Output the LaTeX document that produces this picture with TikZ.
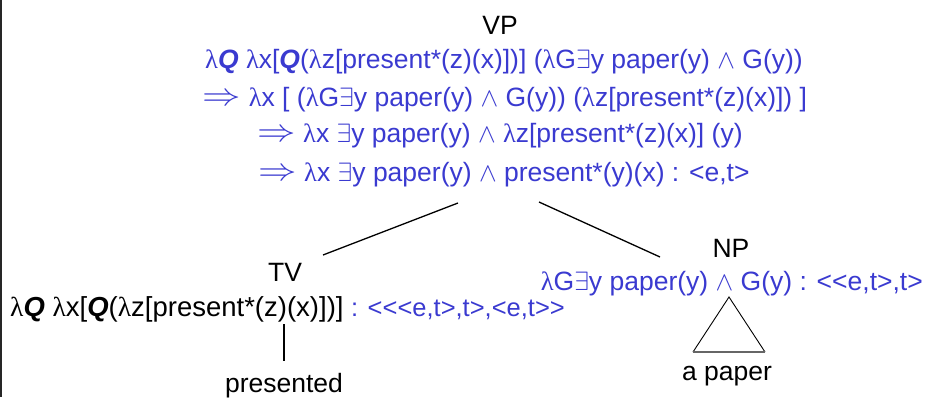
\RequirePackage{fix-cm}
\documentclass[tikz,border=0pt]{standalone}
\usepackage{fontspec}
\setmainfont{Liberation Sans}[Ligatures=TeXOff]
\newfontfamily\lamfont{Liberation Serif}[Ligatures=TeXOff]
\definecolor{semblue}{RGB}{58,58,208}
\newcommand{\lam}{{\lamfont λ}}
\newcommand{\bQ}{\textbf{\textit{Q}}}
\newcommand{\ex}{$\exists$}
\newcommand{\und}{$\wedge$}
\newcommand{\imp}{\raisebox{0.5pt}{\scalebox{1.45}[1.2]{$\Rightarrow$}}}
\tikzset{
  lbl/.style={inner sep=0pt, anchor=base, font=\fontsize{26.5}{31}\selectfont},
  sem/.style={lbl, text=semblue},
  branch/.style={draw=black, line width=1.3pt},
}
\begin{document}
\begin{tikzpicture}[x=1pt,y=-1pt]
\useasboundingbox (0,0) rectangle (927,397);
\draw[line width=1.5pt, draw=black!85] (0.75,0) -- (0.75,397);
% VP
\node[lbl] (vp) at (500,34) {VP};
\node[sem] (l1) at (504,68) {\lam\bQ{} \lam x[\bQ(\lam z[present*(z)(x)])] (\lam G\ex y paper(y) \und{} G(y))};
\node[sem] (l2) at (505,106) {\imp{} \lam x [ (\lam G\ex y paper(y) \und{} G(y)) (\lam z[present*(z)(x)]) ]};
\node[sem] (l3) at (500,142) {\imp{} \lam x \ex y paper(y) \und{} \lam z[present*(z)(x)] (y)};
\node[sem] (l4) at (504,181) {\imp{} \lam x \ex y paper(y) \und{} present*(y)(x) : <e,t>};
% TV
\node[lbl] (tv) at (285,281) {TV};
\node[lbl, anchor=base west] (tvf) at (10,316) {\fontsize{27.5}{32}\selectfont\lam\bQ{} \lam x[\bQ(\lam z[present*(z)(x)])] \textcolor{semblue}{\fontsize{25.5}{30}\selectfont: <<<e,t>,t>,<e,t>>}};
\node[lbl] (pres) at (284,392) {presented};
% NP
\node[lbl] (np) at (731,257) {NP};
\node[sem, anchor=base east] (npf) at (923,290) {\lam G\ex y paper(y) \und{} G(y) : <<e,t>,t>};
\node[lbl] (apaper) at (727,380) {a paper};
% connectors
\coordinate (vpL) at (458,203);
\coordinate (vpR) at (539,202);
\coordinate (tvT) at (323,255);
\coordinate (npT) at (660,257);
\coordinate (tvB) at (284,324);
\coordinate (presT) at (284,361);
\draw[branch] (vpL) -- (tvT);
\draw[branch] (vpR) -- (npT);
\draw[branch] (tvB) -- (presT);
\coordinate (triA) at (729,297);
\coordinate (triL) at (693,352);
\coordinate (triR) at (765,352);
\draw[line width=0.9pt] (triL) -- (triA) -- (triR);
\draw[line width=1.3pt, draw=black!60] (triL) -- (triR);
\end{tikzpicture}
\end{document}
